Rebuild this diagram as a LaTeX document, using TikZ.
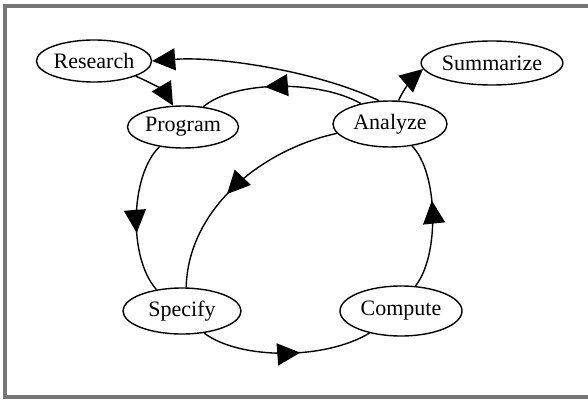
\documentclass[tikz,border=0pt]{standalone}
\usepackage{fontspec}
\setmainfont{Liberation Serif}
\usetikzlibrary{shapes.geometric,arrows.meta,decorations.markings}

\definecolor{molduracinza}{HTML}{767676}

\begin{document}
\begin{tikzpicture}[x=0.5pt,y=-0.5pt,
  etapa/.style={draw,ellipse,line width=0.7pt,inner sep=0pt,minimum width=57pt,minimum height=21pt,font=\fontsize{11}{13}\selectfont},
  liga/.style={line width=0.7pt},
  ponta/.style={-{Triangle[length=11.5pt,width=11pt]}},
  meio/.style={postaction={decorate},decoration={markings,mark=at position #1 with {\arrow{Triangle[length=11.5pt,width=11pt]}}}}]
\useasboundingbox (0,0) rectangle (588,401);
\draw[molduracinza,line width=1.6pt] (588,6) -- (5,6) -- (5,397) -- (588,397);

\node[etapa,minimum width=57.5pt] (research) at (94,61) {Research};
\node[etapa,minimum width=55.5pt] (program) at (183,127) {Program};
\node[etapa,minimum height=23pt] (analyze) at (390,124) {Analyze};
\node[etapa,minimum width=63pt,minimum height=22pt] (summarize) at (492,63) {Summarize};
\node[etapa,minimum width=59pt,minimum height=23pt] (specify) at (182,311) {Specify};
\node[etapa,minimum width=61pt,minimum height=25pt] (compute) at (401,311) {Compute};

\draw[liga,meio=0.6] (analyze.145) .. controls (320,80) and (235,80) .. (program.45);
\draw[liga,meio=0.6] (program.220) .. controls (130,175) and (128,258) .. (specify.140);
\draw[liga,meio=0.58] (specify.-45) .. controls (240,360) and (325,360) .. (compute.215);
\draw[liga,meio=0.6] (compute.60) .. controls (440,255) and (438,172) .. (analyze.-45);
\draw[liga,meio=0.55] (analyze.190) .. controls (260,150) and (188,210) .. (specify.80);
\draw[liga,ponta] (analyze.115) .. controls (320,72) and (220,56) .. (research.east);
\draw[liga,ponta] (research.-20) .. controls (152,83) and (165,92) .. (program.115);
\draw[liga,ponta] (analyze.70) .. controls (404,88) and (415,76) .. (summarize.185);
\end{tikzpicture}
\end{document}
